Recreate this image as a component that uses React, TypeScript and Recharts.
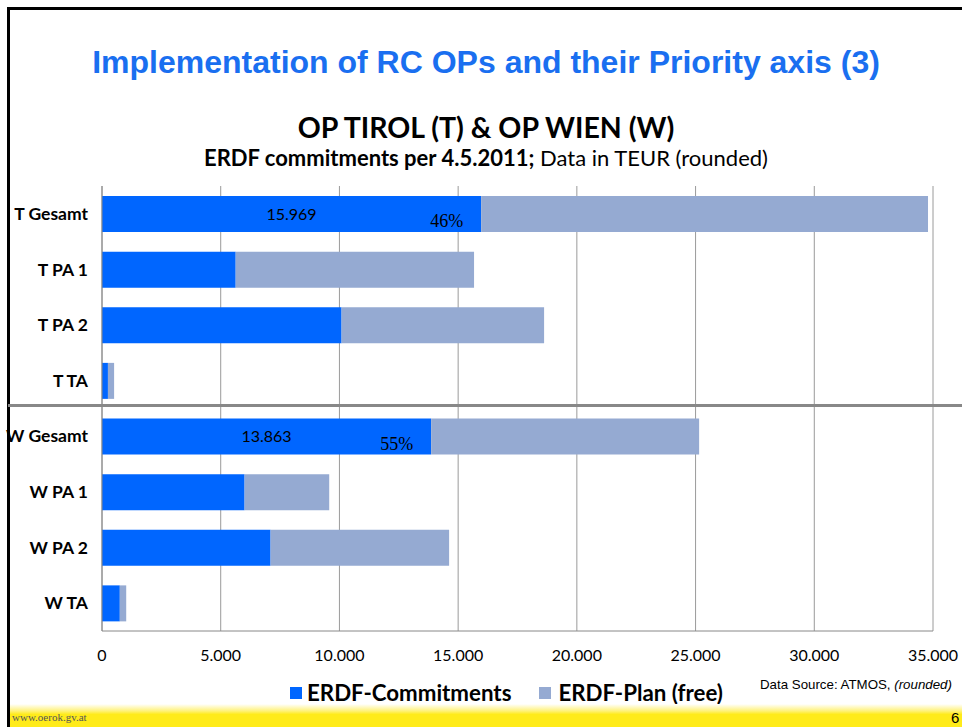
import React from 'react';
import { BarChart, Bar, XAxis, YAxis, CartesianGrid, LabelList } from 'recharts';

const categories = ['T Gesamt', 'T PA 1', 'T PA 2', 'T TA', 'W Gesamt', 'W PA 1', 'W PA 2', 'W TA'];
const commitments = [15969, 5630, 10090, 250, 13863, 6005, 7100, 750];
const planFree = [18821, 10040, 8530, 260, 11287, 3565, 7520, 270];
const labelledRows = [true, false, false, false, true, false, false, false];
const xTicks = [0, 5000, 10000, 15000, 20000, 25000, 30000, 35000];

const fmt = (v: number) => String(v).replace(/\B(?=(\d{3})+(?!\d))/g, '.');

const data = categories.map((c, i) => ({
  name: c,
  commit: commitments[i],
  free: planFree[i],
  valueText: labelledRows[i] ? fmt(commitments[i]) : '',
  pctText: labelledRows[i]
    ? Math.round((commitments[i] / (commitments[i] + planFree[i])) * 100) + '%'
    : '',
}));

const BLUE = '#0066FF';
const GREY = '#95AAD2';
const CAL = 'Lato, "Noto Sans", sans-serif';

const getBox = (p: any) => {
  const vb = p.viewBox || p;
  return { x: Number(vb.x), y: Number(vb.y), w: Number(vb.width), h: Number(vb.height) };
};

const ValueLabel = (p: any) => {
  if (!p.value) return null;
  const { x, y, w, h } = getBox(p);
  return (
    <text x={x + w / 2} y={y + h / 2} dy="0.35em" textAnchor="middle" fontFamily={CAL} fontSize={16} fill="#000">
      {p.value}
    </text>
  );
};

const PctLabel = (p: any) => {
  if (!p.value) return null;
  const { x, y, w, h } = getBox(p);
  return (
    <text x={x + w - 18} y={y + h / 2 + 7} dy="0.35em" textAnchor="end" fontFamily='"Liberation Serif", "DejaVu Serif", serif' fontSize={18} fill="#000">
      {p.value}
    </text>
  );
};

const XTick = (p: any) => (
  <text x={p.x} y={p.y} dy="0.35em" textAnchor="middle" fontFamily={CAL} fontSize={16} fill="#000">
    {fmt(p.payload.value)}
  </text>
);

const YTick = (p: any) => (
  <text x={p.x} y={p.y} dy="0.35em" textAnchor="end" fontFamily={CAL} fontSize={17.5} fontWeight={700} fill="#000">
    {p.payload.value}
  </text>
);

export default function App() {
  return (
    <div style={{ position: 'absolute', left: 0, top: 0, width: 962, height: 727, overflow: 'hidden', background: '#fff' }}>
      {/* slide frame */}
      <div style={{ position: 'absolute', left: 7, top: 7, width: 955, height: 3, background: '#000' }} />
      <div style={{ position: 'absolute', left: 7, top: 7, width: 3, height: 720, background: '#000' }} />
      {/* title */}
      <div style={{ position: 'absolute', left: 10, top: 43, width: 952, textAlign: 'center', lineHeight: '38px', fontFamily: '"Liberation Sans", Arial, sans-serif', fontWeight: 700, fontSize: 32, color: '#1A6FF0' }}>
        Implementation of RC OPs and their Priority axis (3)
      </div>
      <div style={{ position: 'absolute', left: 10, top: 109, width: 952, textAlign: 'center', lineHeight: '36px', fontFamily: CAL, fontWeight: 700, fontSize: 28.5, color: '#000' }}>
        OP TIROL (T) &amp; OP WIEN (W)
      </div>
      <div style={{ position: 'absolute', left: 10, top: 144, width: 952, textAlign: 'center', lineHeight: '28px', fontFamily: CAL, fontSize: 22, color: '#000' }}>
        <b>ERDF commitments per 4.5.2011;</b> Data in TEUR (rounded)
      </div>
      <div style={{ position: 'absolute', left: 0, top: 0 }}>
        <BarChart layout="vertical" width={962} height={727} data={data} margin={{ top: 186, right: 29, bottom: 66, left: 0 }} barSize={36}>
          <CartesianGrid horizontal={false} stroke="#9a9a9a" />
          <XAxis type="number" domain={[0, 35000]} ticks={xTicks} axisLine={{ stroke: '#888' }} tickLine={false} tickSize={0} tickMargin={24} height={30} tick={<XTick />} interval={0} />
          <YAxis type="category" dataKey="name" width={102} axisLine={{ stroke: '#888' }} tickLine={false} tickSize={0} tickMargin={14} tick={<YTick />} interval={0} />
          <Bar dataKey="commit" stackId="a" fill={BLUE} isAnimationActive={false}>
            <LabelList dataKey="valueText" content={<ValueLabel />} />
            <LabelList dataKey="pctText" content={<PctLabel />} />
          </Bar>
          <Bar dataKey="free" stackId="a" fill={GREY} isAnimationActive={false} />
        </BarChart>
      </div>
      {/* separator */}
      <div style={{ position: 'absolute', left: 8, top: 404, width: 954, height: 3, background: '#888' }} />
      {/* legend */}
      <div style={{ position: 'absolute', left: 290, top: 679, lineHeight: '28px', display: 'flex', alignItems: 'center', fontFamily: CAL, fontWeight: 700, fontSize: 22.3, color: '#000' }}>
        <span style={{ display: 'inline-block', width: 12, height: 12, background: BLUE, marginRight: 5 }} />
        <span>ERDF-Commitments</span>
        <span style={{ display: 'inline-block', width: 12, height: 12, background: GREY, marginLeft: 28, marginRight: 7 }} />
        <span>ERDF-Plan (free)</span>
      </div>
      <div style={{ position: 'absolute', left: 760, top: 677, lineHeight: '16px', fontFamily: '"Liberation Sans", Arial, sans-serif', fontSize: 13.3, color: '#000' }}>
        Data Source: ATMOS, <i>(rounded)</i>
      </div>
      {/* footer */}
      <div style={{ position: 'absolute', left: 10, top: 704, width: 952, height: 23, background: 'linear-gradient(#ffffff 0%, #fff27a 30%, #FFEB1A 45%, #FFEB1A 100%)' }} />
      <div style={{ position: 'absolute', left: 12, top: 711, fontFamily: '"Liberation Serif", serif', fontSize: 11, color: '#555' }}>www.oerok.gv.at</div>
      <div style={{ position: 'absolute', left: 951, top: 709, fontFamily: '"Liberation Sans", Arial, sans-serif', fontSize: 15, color: '#000' }}>6</div>
    </div>
  );
}
